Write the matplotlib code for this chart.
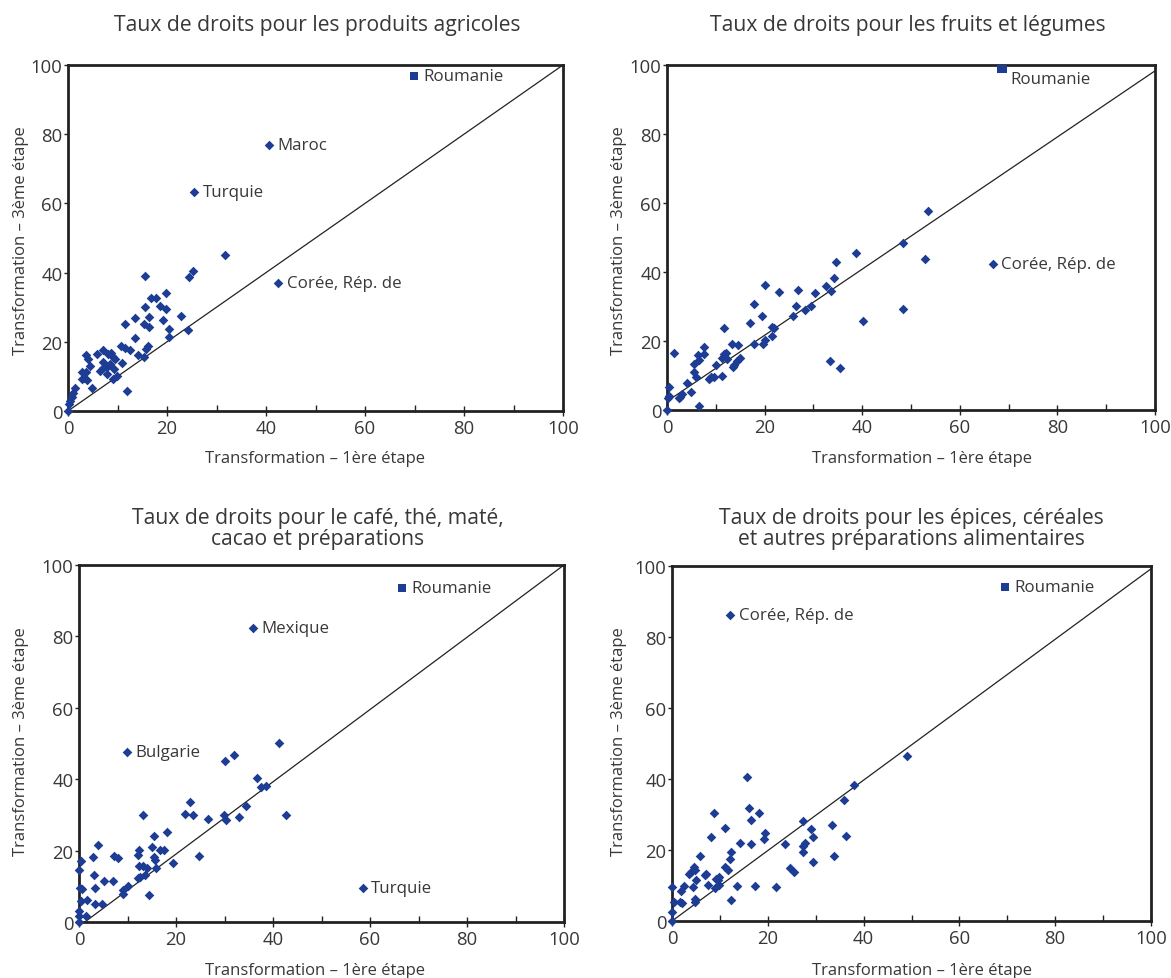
import matplotlib
matplotlib.use('Agg')
import matplotlib.pyplot as plt
from matplotlib.ticker import MultipleLocator

plt.rcParams['font.family'] = ['Open Sans', 'DejaVu Sans']

### ===========================================================================
# data

titles = ['Taux de droits pour les produits agricoles',
          'Taux de droits pour les fruits et légumes',
          'Taux de droits pour le café, thé, maté,\ncacao et préparations',
          'Taux de droits pour les épices, céréales\net autres préparations alimentaires']
xlabel = 'Transformation – 1ère étape'
ylabel = 'Transformation – 3ème étape'
ticks = [0, 20, 40, 60, 80, 100]

# produits agricoles
x1 = [31.8, 15.5, 24.4, 25.3, 19.8, 16.8, 17.8, 18.6, 19.8, 15.5, 13.5, 16.3,
      19.2, 22.9, 11.6, 15.4, 16.4, 20.4, 24.3, 20.5, 13.5, 10.7, 11.6, 12.5,
      16.1, 15.8, 14.2, 15.4, 10.9, 11.9, 9.0, 9.8, 9.4, 9.1, 8.0, 7.1, 5.9,
      6.4, 7.1, 7.9, 7.8, 8.4, 3.7, 4.1, 4.4, 2.9, 3.7, 2.8, 3.8, 4.8, 1.4,
      1.1, 0.8, 0.4, 0.2, 0.0, 8.6, 7.0, 9.3, 3.2]
y1 = [45.0, 39.0, 38.8, 40.4, 34.2, 32.6, 32.8, 30.3, 29.5, 30.0, 26.9, 27.1,
      26.3, 27.4, 25.2, 25.2, 24.3, 23.8, 23.3, 21.4, 21.2, 18.7, 18.2, 17.7,
      18.7, 18.0, 16.1, 15.6, 13.9, 5.8, 9.3, 10.0, 15.1, 15.6, 16.6, 17.5,
      16.4, 11.7, 14.1, 12.7, 10.8, 13.7, 16.3, 15.1, 12.9, 11.3, 11.3, 9.3,
      9.0, 6.7, 6.7, 5.2, 4.0, 2.8, 2.1, 0.0, 16.9, 12.5, 12.0, 9.6]
lab1 = [('Maroc', 40.6, 77.0), ('Turquie', 25.5, 63.2), ('Corée, Rép. de', 42.5, 37.0)]
rou1 = (69.8, 96.9)

# fruits et légumes
x2 = [53.4, 48.3, 52.8, 48.3, 38.7, 34.7, 34.3, 32.6, 33.7, 40.2, 33.4, 35.4,
      30.3, 29.6, 28.3, 26.9, 26.5, 25.8, 23.0, 20.1, 17.8, 19.4, 17.1, 21.5,
      22.0, 21.5, 20.0, 19.6, 17.9, 11.7, 13.3, 14.5, 11.6, 11.2, 15.0, 14.3,
      13.5, 10.1, 11.2, 9.7, 8.7, 7.6, 7.5, 6.3, 6.5, 5.5, 5.6, 5.9, 1.4, 4.0,
      5.0, 2.6, 0.5, 0.4, 0.2, 0.0, 6.6, 12.3, 13.8, 12.0, 9.0, 3.0, 2.5]
y2 = [57.7, 48.3, 43.7, 29.3, 45.6, 42.9, 38.3, 35.9, 34.5, 25.8, 14.3, 12.3,
      33.9, 30.1, 28.9, 34.8, 30.2, 27.2, 34.1, 36.2, 30.7, 27.2, 25.1, 24.1,
      23.8, 21.4, 20.2, 19.1, 19.1, 23.7, 19.1, 18.9, 16.2, 15.0, 15.0, 14.1,
      12.6, 13.1, 9.9, 9.7, 8.9, 18.2, 16.2, 16.0, 14.4, 13.4, 10.9, 9.7, 16.5,
      7.8, 5.1, 3.9, 4.1, 6.6, 3.6, 0.0, 1.3, 14.8, 13.0, 16.5, 9.5, 4.5, 3.5]
lab2 = [('Corée, Rép. de', 66.8, 42.4)]
rou2 = (68.6, 99.2)

# café, thé, maté, cacao
x3 = [41.3, 31.9, 30.0, 36.8, 37.5, 38.5, 34.5, 42.7, 32.9, 30.4, 29.8, 26.5,
      22.8, 21.8, 23.6, 24.8, 18.2, 19.3, 13.2, 15.5, 15.1, 16.6, 17.6, 12.4,
      12.2, 15.5, 15.7, 15.8, 12.4, 13.1, 14.0, 13.6, 12.6, 12.2, 14.5, 10.1,
      9.0, 9.1, 7.2, 8.1, 7.0, 5.1, 4.0, 2.9, 3.0, 3.2, 3.3, 4.7, 1.6, 0.5,
      0.1, 0.2, 0.6, 0.4, 0.0, 0.0, 1.4, 0.0]
y3 = [50.2, 46.9, 45.2, 40.3, 37.7, 38.2, 32.4, 30.1, 29.5, 28.5, 30.1, 28.9,
      33.5, 30.2, 29.9, 18.4, 25.1, 16.6, 30.1, 24.0, 20.9, 20.2, 20.2, 20.2,
      18.7, 18.2, 17.3, 15.1, 15.6, 15.6, 15.1, 13.1, 12.6, 12.3, 7.6, 10.1,
      9.1, 7.9, 18.5, 18.0, 11.5, 11.5, 21.6, 18.3, 13.2, 9.5, 5.1, 5.1, 6.3,
      17.0, 14.5, 9.6, 9.3, 5.9, 3.0, 1.6, 1.6, 0.0]
lab3 = [('Mexique', 35.9, 82.3), ('Bulgarie', 9.9, 47.6), ('Turquie', 58.5, 9.4)]
rou3 = (66.6, 93.6)

# épices, céréales
x4 = [49.1, 38.1, 36.0, 33.4, 36.4, 33.9, 27.3, 29.1, 29.5, 27.8, 27.4, 27.4,
      29.5, 23.6, 24.7, 25.4, 21.8, 19.5, 19.2, 15.6, 16.1, 16.4, 18.1, 16.4,
      17.3, 14.3, 13.5, 12.3, 12.2, 12.3, 11.0, 11.1, 11.6, 8.8, 8.1, 9.8,
      9.5, 9.1, 8.9, 9.9, 7.6, 6.8, 7.2, 5.9, 5.1, 4.9, 4.9, 4.3, 4.5, 4.7,
      3.6, 3.9, 2.6, 1.9, 2.0, 1.6, 0.5, 0.0, 0.0, 0.0]
y4 = [46.5, 38.3, 34.0, 27.1, 23.9, 18.3, 28.2, 25.9, 23.8, 22.1, 21.2, 19.5,
      16.7, 21.6, 15.0, 13.9, 9.6, 24.9, 23.1, 40.7, 31.7, 28.5, 30.5, 21.6,
      9.9, 22.0, 9.8, 19.3, 17.6, 5.9, 26.1, 15.2, 14.4, 30.4, 23.6, 12.5,
      11.5, 11.8, 9.2, 10.1, 10.1, 12.9, 13.1, 18.4, 11.5, 5.4, 6.2, 9.7,
      15.1, 14.4, 13.1, 13.7, 9.9, 8.4, 5.0, 5.4, 5.4, 9.6, 2.6, 0.0]
lab4 = [('Corée, Rép. de', 12.2, 86.1)]
rou4 = (69.5, 94.1)

# reference lines (start, end) as drawn in each panel
ref_lines = [((0, 0), (100, 100)),
             ((0, 2.5), (100, 98.3)),
             ((1.2, 0), (100, 100)),
             ((0, 0), (100, 99.2))]

### ===========================================================================

W, H = 1171, 979
BLUE = '#1d3c94'
TXT = '#383838'

def rect(l, t, r, b):
    return [l / W, 1 - b / H, (r - l) / W, (b - t) / H]

fig = plt.figure(figsize=(W / 100, H / 100), dpi=100)

panels = [
    dict(box=(68, 66, 563, 412), x=x1, y=y1, lab=lab1, rou=rou1, rou_off=(7, 0), rou_s=30,
         title_xy=(317, 25), xl_xy=(315, 459), yl_xy=(21, 241)),
    dict(box=(667, 66, 1155, 411), x=x2, y=y2, lab=lab2, rou=rou2, rou_off=(6, -8), rou_s=45,
         title_xy=(908, 25), xl_xy=(922, 459), yl_xy=(619, 241)),
    dict(box=(79, 566, 564, 923), x=x3, y=y3, lab=lab3, rou=rou3, rou_off=(7, 0), rou_s=36,
         title_xy=(318, 529), xl_xy=(315, 971), yl_xy=(21, 742)),
    dict(box=(672, 567, 1151, 922), x=x4, y=y4, lab=lab4, rou=rou4, rou_off=(7, 0), rou_s=30,
         title_xy=(911, 529), xl_xy=(922, 971), yl_xy=(619, 742)),
]

for i, p in enumerate(panels):
    ax = fig.add_axes(rect(*p['box']))
    (x0, y0), (x1_, y1_) = ref_lines[i]
    ax.plot([x0, x1_], [y0, y1_], color='#222222', lw=0.9, zorder=2)
    ax.scatter(p['x'], p['y'], marker='D', s=24, color=BLUE, linewidths=0,
               zorder=3, clip_on=False)
    for name, lx, ly in p['lab']:
        ax.scatter([lx], [ly], marker='D', s=24, color=BLUE, linewidths=0, zorder=3)
        ax.annotate(name, (lx, ly), xytext=(6, 0), textcoords='offset points',
                    va='center', ha='left', fontsize=12.2, color=TXT)
    ax.scatter([p['rou'][0]], [p['rou'][1]], marker='s', s=p['rou_s'], color=BLUE,
               linewidths=0, zorder=3)
    ax.annotate('Roumanie', p['rou'], xytext=p['rou_off'], textcoords='offset points',
                va='center', ha='left', fontsize=12.2, color=TXT)

    ax.set_xlim(0, 100)
    ax.set_ylim(0, 100)
    ax.set_xticks(ticks)
    ax.set_yticks(ticks)
    ax.xaxis.set_minor_locator(MultipleLocator(10))
    for s in ax.spines.values():
        s.set_linewidth(2.0)
        s.set_color('#222222')
    ax.tick_params(axis='x', which='major', direction='inout', length=7,
                   width=1, colors='#222222', labelcolor=TXT, labelsize=13.3, pad=2)
    ax.tick_params(axis='x', which='minor', direction='in', length=4,
                   width=1, colors='#222222')
    ax.tick_params(axis='y', which='major', direction='out', length=3,
                   width=1, colors='#222222', labelcolor=TXT, labelsize=13.3, pad=1)

    tx, ty = p['title_xy']
    fig.text(tx / W, 1 - ty / H, titles[i], ha='center', va='center',
             fontsize=15.2, color=TXT, linespacing=1.05)
    lx_, ly_ = p['xl_xy']
    fig.text(lx_ / W, 1 - ly_ / H, xlabel, ha='center', va='center',
             fontsize=12, color=TXT)
    yx, yy = p['yl_xy']
    fig.text(yx / W, 1 - yy / H, ylabel, ha='center', va='center',
             rotation=90, fontsize=12, color=TXT)

fig.savefig('out.png', dpi=100)
